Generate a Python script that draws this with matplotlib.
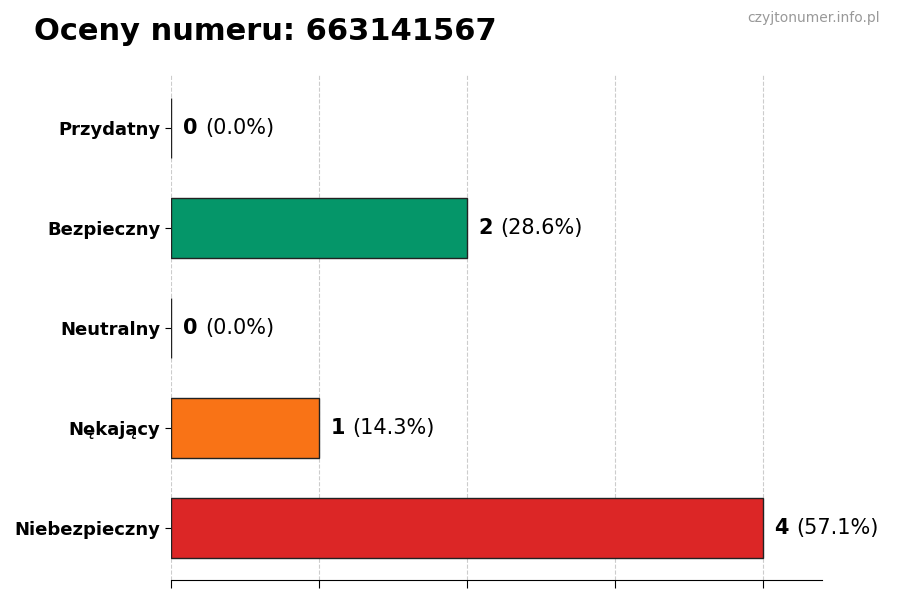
import matplotlib.pyplot as plt

categories = ["Niebezpieczny", "Nękający", "Neutralny", "Bezpieczny", "Przydatny"]
counts = [4, 1, 0, 2, 0]
colors = ["#DC2626", "#F97316", "#6B7280", "#059669", "#10B981"]
total = sum(counts)

fig = plt.figure(figsize=(9, 6), dpi=100)
ax = fig.add_axes([0.19, 0.033, 0.723, 0.842])

ypos = range(len(categories))
ax.barh(ypos, counts, height=0.6, color=colors, edgecolor="#222222", linewidth=1, zorder=2)

for y, c in zip(ypos, counts):
    pct = c / total * 100
    x0 = c + 0.08
    t = ax.text(x0, y, f"{c}", fontsize=15, fontweight="bold", va="center", ha="left", zorder=3)
    fig.canvas.draw()
    bb = t.get_window_extent()
    inv = ax.transData.inverted()
    x1 = inv.transform((bb.x1, 0))[0]
    ax.text(x1 + 0.055, y, f"({pct:.1f}%)", fontsize=15, va="center", ha="left", zorder=3)

ax.set_yticks(list(ypos))
ax.set_yticklabels(categories, fontsize=13, fontweight="bold")
ax.set_xlim(0, 4.4)
ax.set_ylim(-0.52, 4.53)
ax.set_xticks([0, 1, 2, 3, 4])
ax.set_xticklabels([])
ax.tick_params(axis="x", length=6)
ax.tick_params(axis="y", length=4)
ax.grid(axis="x", linestyle="--", color="#cccccc", linewidth=0.8, zorder=0)
ax.set_axisbelow(True)
for s in ["top", "right", "left"]:
    ax.spines[s].set_visible(False)

fig.text(0.038, 0.947, "Oceny numeru: 663141567", fontsize=22, fontweight="bold", va="center", ha="left")
fig.text(0.978, 0.97, "czyjtonumer.info.pl", fontsize=10, color="#999999", ha="right", va="center")

fig.savefig("out.png", dpi=100)
